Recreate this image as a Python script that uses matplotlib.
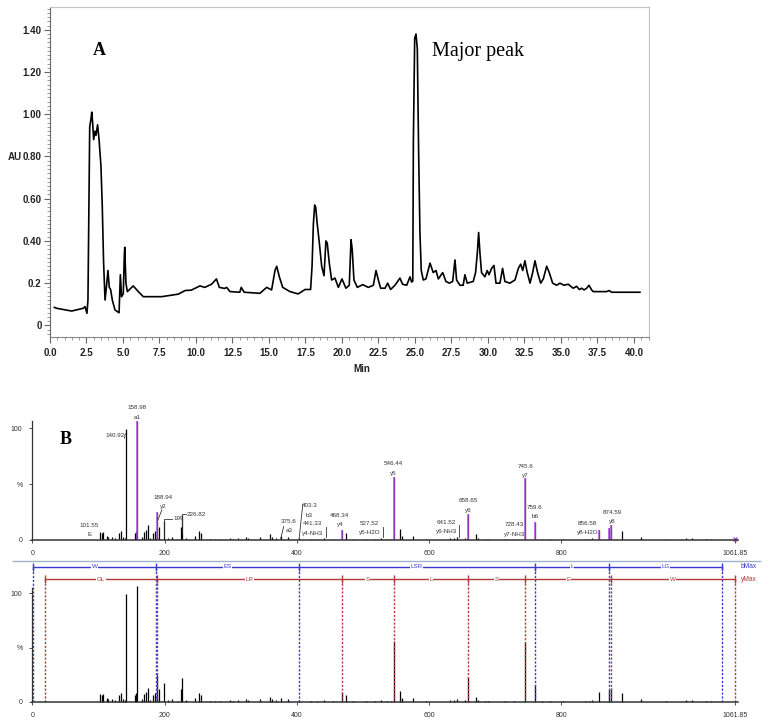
import matplotlib
matplotlib.use("Agg")
import matplotlib.pyplot as plt
from matplotlib.ticker import MultipleLocator, FixedLocator, FuncFormatter

W, H = 768, 724

# ---- panel A: chromatogram (min, AU) ----
time_min = [0.30, 0.46, 1.48, 2.28, 2.40, 2.53, 2.60, 2.72, 2.81, 2.86,
            2.92, 2.99, 3.08, 3.15, 3.26, 3.36, 3.49, 3.58, 3.67, 3.77,
            3.86, 3.97, 4.06, 4.15, 4.27, 4.45, 4.73, 4.82, 4.90, 5.02,
            5.09, 5.12, 5.20, 5.30, 5.70, 6.05, 6.39, 7.65, 8.79, 9.25,
            9.68, 10.27, 10.60, 11.07, 11.40, 11.60, 11.96, 12.10, 12.33, 13.00,
            13.10, 13.30, 14.38, 14.84, 15.18, 15.41, 15.53, 15.71, 15.94, 16.44,
            17.00, 17.47, 17.85, 17.95, 18.04, 18.13, 18.20, 18.29, 18.45, 18.61,
            18.77, 18.90, 18.99, 19.13, 19.29, 19.52, 19.75, 20.00, 20.27, 20.50,
            20.62, 20.70, 20.82, 21.05, 21.42, 21.80, 22.15, 22.33, 22.51, 22.65,
            22.95, 23.13, 23.33, 23.63, 23.97, 24.15, 24.43, 24.66, 24.77, 24.85,
            24.89, 24.98, 25.07, 25.16, 25.25, 25.34, 25.43, 25.57, 25.75, 26.03,
            26.25, 26.44, 26.60, 26.90, 27.12, 27.35, 27.58, 27.74, 27.85, 28.08,
            28.30, 28.42, 28.58, 28.99, 29.15, 29.27, 29.36, 29.45, 29.56, 29.79,
            29.95, 30.07, 30.25, 30.41, 30.55, 30.82, 31.00, 31.16, 31.50, 31.85,
            32.08, 32.24, 32.38, 32.53, 32.69, 32.88, 33.06, 33.22, 33.40, 33.61,
            33.79, 34.02, 34.20, 34.43, 34.70, 34.93, 35.20, 35.50, 35.84, 36.07,
            36.26, 36.42, 36.58, 36.76, 36.92, 37.10, 37.21, 38.12, 38.30, 38.47, 40.41]
absorb = [0.085, 0.081, 0.068, 0.081, 0.089, 0.057, 0.12, 0.94, 0.98, 1.01,
          0.96, 0.88, 0.92, 0.90, 0.95, 0.88, 0.755, 0.565, 0.30, 0.12,
          0.18, 0.26, 0.18, 0.17, 0.12, 0.073, 0.06, 0.24, 0.136, 0.15,
          0.33, 0.37, 0.20, 0.16, 0.187, 0.16, 0.136, 0.136, 0.148, 0.165,
          0.167, 0.187, 0.18, 0.195, 0.22, 0.18, 0.175, 0.18, 0.16, 0.157,
          0.18, 0.157, 0.152, 0.18, 0.168, 0.26, 0.28, 0.23, 0.18, 0.16,
          0.149, 0.17, 0.17, 0.28, 0.48, 0.57, 0.56, 0.49, 0.39, 0.28,
          0.235, 0.40, 0.39, 0.295, 0.215, 0.224, 0.18, 0.22, 0.176, 0.19,
          0.406, 0.36, 0.215, 0.18, 0.193, 0.18, 0.19, 0.26, 0.21, 0.176,
          0.176, 0.20, 0.17, 0.19, 0.224, 0.195, 0.19, 0.23, 0.205, 0.21,
          0.87, 1.36, 1.38, 1.31, 0.82, 0.44, 0.26, 0.215, 0.22, 0.295,
          0.25, 0.26, 0.22, 0.25, 0.208, 0.20, 0.208, 0.31, 0.215, 0.19,
          0.19, 0.24, 0.20, 0.208, 0.25, 0.343, 0.44, 0.343, 0.25, 0.23,
          0.26, 0.24, 0.27, 0.284, 0.20, 0.20, 0.27, 0.208, 0.20, 0.215,
          0.27, 0.29, 0.26, 0.306, 0.25, 0.20, 0.25, 0.306, 0.25, 0.20,
          0.22, 0.28, 0.25, 0.20, 0.19, 0.20, 0.19, 0.195, 0.176, 0.185,
          0.17, 0.176, 0.168, 0.176, 0.19, 0.168, 0.16, 0.16, 0.165, 0.157, 0.157]
y_ticks = [0, 0.2, 0.4, 0.6, 0.8, 1.0, 1.2, 1.4]
y_tick_labels = ["0", "0.2", "0.40", "0.60", "0.80", "1.00", "1.20", "1.40"]

# ---- panel B: MS/MS spectrum (m/z, % intensity) ----
peak_mz = [102.3, 104.8, 107.3, 112.4, 114.9, 119.9, 125.0, 131.0, 133.5, 137.6,
           140.0, 140.92, 155.0, 156.7, 158.98, 165.3, 169.3, 171.9, 174.4, 178.0,
           183.0, 185.4, 188.0, 188.94, 192.0, 199.0, 205.6, 210.7, 218.2, 224.5,
           226.82, 231.8, 246.0, 252.5, 254.5, 268.5, 276.0, 283.7, 299.0, 303.8,
           311.4, 323.0, 326.5, 344.0, 359.0, 361.7, 369.0, 375.6, 387.0, 403.3,
           422.0, 430.0, 441.33, 455.0, 468.34, 475.0, 485.0, 505.0, 518.0, 527.52,
           536.0, 543.0, 546.44, 556.0, 559.0, 576.0, 596.0, 632.0, 637.0, 641.52,
           654.0, 658.65, 671.0, 674.0, 684.0, 689.0, 714.0, 728.43, 745.6, 759.6,
           770.0, 782.0, 802.0, 835.0, 841.0, 847.0, 856.58, 872.7, 874.59, 892.0,
           920.0, 958.0, 988.0, 998.0, 1018.0, 1026.0]
peak_int = [7, 6, 7, 4, 3, 3, 2, 6, 8, 3,
            2, 99, 6, 8, 106, 3, 7, 9, 13, 2,
            6, 8, 3, 25, 12, 17, 2, 3, 1, 12,
            22, 2, 4, 8, 6, 1, 1, 1, 2, 1,
            2, 3, 2, 3, 5, 3, 2, 4, 3, 2,
            1, 1, 2, 1, 9, 6, 1, 1, 1, 2,
            1, 1, 56, 10, 4, 4, 1, 2, 2, 3,
            2, 23, 5, 2, 1, 1, 1, 1, 55, 16,
            1, 1, 1, 1, 1, 2, 9, 11, 13, 8,
            3, 1, 2, 2, 1, 1]
matched_mz = [158.98, 188.94, 468.34, 546.44, 658.65, 745.6, 759.6, 856.58, 872.7, 874.59]

ann_mz = [101.55, 140.92, 158.98, 188.94, 199, 226.82, 375.6, 403.3, 441.33, 468.34,
          527.52, 546.44, 641.52, 658.65, 728.43, 745.6, 759.6, 856.58, 874.59]
ann_ion = ["E", "", "a1", "y2", "", "", "a3", "b3", "y4-NH3", "y4",
           "y5-H2O", "y5", "y6-NH3", "y6", "y7-NH3", "y7", "b6", "y8-H2O", "y8"]

# fragment ladders
b_pos = [1.0, 187.08, 403.3, 759.6, 872.7, 1042.8]
b_seg = ["W", "ES", "LSR", "L", "LG"]
y_pos = [19.0, 188.94, 468.34, 546.44, 658.65, 745.6, 874.59, 1061.85]
y_seg = ["GL", "LR", "S", "L", "S", "E", "W"]
mz_ticks = [0, 200, 400, 600, 800, 1061.85]

MAG = "#b44ee6"
BLUE = "#3a3ad0"
RED = "#b33a3a"
SANS = ["Liberation Sans", "DejaVu Sans"]
SERIF = ["Liberation Serif", "DejaVu Serif"]


def px_axes(fig, x0, y0, x1, y1):
    return fig.add_axes([x0 / W, 1 - y1 / H, (x1 - x0) / W, (y1 - y0) / H])


fig = plt.figure(figsize=(W / 100, H / 100), dpi=100)

# ================= panel A =================
ax = px_axes(fig, 50, 7, 649, 337)
ax.plot(time_min, absorb, color="black", lw=1.2)
ax.set_xlim(0, 41.03)
ax.set_ylim(-0.055, 1.508)
ax.xaxis.set_major_locator(MultipleLocator(2.5))
ax.xaxis.set_minor_locator(MultipleLocator(0.5))
ax.xaxis.set_major_formatter(FuncFormatter(lambda v, p: f"{v:.1f}"))
ax.yaxis.set_major_locator(FixedLocator(y_ticks))
ax.set_yticklabels(y_tick_labels)
ax.yaxis.set_minor_locator(MultipleLocator(0.02))
ax.tick_params(which="major", direction="out", length=4, width=0.8, color="#666")
ax.tick_params(which="minor", direction="out", length=2, width=0.6, color="#888")
ax.tick_params(axis="x", pad=4)
ax.tick_params(axis="y", pad=2)
for lab in ax.get_xticklabels() + ax.get_yticklabels():
    lab.set_family(SANS)
    lab.set_fontweight("bold")
    lab.set_fontsize(7)
    lab.set_color("#222")
ax.spines["left"].set_color("#666")
ax.spines["bottom"].set_color("#888")
for s in ("top", "right"):
    ax.spines[s].set_color("#c4c4c4")
ax.text(3.4, 1.30, "A", family=SERIF, fontweight="bold", fontsize=13, va="center", ha="center")
ax.text(26.2, 1.25, "Major peak", family=SERIF, fontsize=14.5, va="bottom", ha="left")
fig.text(15 / W, 1 - 157 / H, "AU", family=SANS, fontweight="bold", fontsize=7,
         ha="center", va="center", color="#222")
fig.text(362 / W, 1 - 369 / H, "Min", family=SANS, fontweight="bold", fontsize=7,
         ha="center", va="center", color="#222")

# ================= panel B: top annotated spectrum =================
XMAX = 1067


def style_spec(a):
    a.set_xlim(0, XMAX)
    for s in ("top", "right"):
        a.spines[s].set_visible(False)
    a.spines["left"].set_color("#333")
    a.spines["bottom"].set_color("#333")
    a.spines["left"].set_linewidth(0.9)
    a.spines["bottom"].set_linewidth(1.1)
    a.set_xticks(mz_ticks)
    a.set_xticklabels(["0", "200", "400", "600", "800", "1061.85"])
    a.set_yticks([0, 50, 100])
    a.set_yticklabels(["0", "%", "100"])
    a.tick_params(length=2, width=0.6, color="#333", labelsize=5, pad=5,
                  labelcolor="#333")
    for lab in a.get_xticklabels() + a.get_yticklabels():
        lab.set_family(SANS)


top = px_axes(fig, 32.3, 421, 738, 540)
top.set_ylim(0, 106.3)
style_spec(top)
top.vlines(peak_mz, 0, peak_int, color="black", lw=0.9)
mag_int = [peak_int[peak_mz.index(m)] for m in matched_mz]
top.vlines(matched_mz, 0, mag_int, color=MAG, lw=1.1)
top.plot([1061.85], [1.0], marker="x", ms=3, color=MAG, clip_on=False)

# label placement (value line centre, data units); ion name sits one line lower
lab_x = [86, 139, 159, 198, 213, 233, 388, 419, 424, 465,
         510, 546, 626, 659, 729, 746, 760, 840, 877]
lab_y = [12.8, 93, 118, 38, 19, 23, 16.4, 30.4, 14.3, 22.3,
         15, 68, 15.8, 35, 13.4, 66, 29, 15, 24.4]
lab_ha = ["center", "right", "center", "center", "left", "left", "center", "center", "center", "center",
          "center", "center", "center", "center", "center", "center", "center", "center", "center"]
for m, ion, lx, ly, ha in zip(ann_mz, ann_ion, lab_x, lab_y, lab_ha):
    top.text(lx, ly, f"{m:g}", fontsize=4.5, family=SANS, ha=ha, va="center",
             color="#333", clip_on=False)
    if ion:
        top.text(lx, ly - 8.3, ion, fontsize=4.5, family=SANS, ha=ha, va="center",
                 color="#333", clip_on=False)

# connector lines from labels to peaks
kw = dict(color="#333", lw=0.6)
top.plot([199, 199, 211], [3, 19, 19], **kw)
top.plot([226.82, 226.82, 232], [6, 23, 23], **kw)
top.plot([190, 196], [18, 27], **kw)
top.plot([375.6, 380], [1, 12], **kw)
top.plot([403.3, 409], [0.5, 32], **kw)
top.plot([444, 444], [2.5, 12], **kw)
top.plot([530, 530], [2.5, 12], **kw)
top.plot([645, 645], [2.5, 13], **kw)
top.plot([139.5, 140.5], [91, 95], **kw)

fig.text(65.7 / W, 1 - 439.3 / H, "B", family=SERIF, fontweight="bold", fontsize=13,
         ha="center", va="center")

# ================= panel B: bottom spectrum with ladders =================
bot = px_axes(fig, 32.3, 560, 738, 702)
bot.set_ylim(0, 130.3)
style_spec(bot)
bot.spines["left"].set_bounds(0, 104.6)
bot.vlines(peak_mz, 0, peak_int, color="black", lw=0.9, clip_on=False)

# separator line
bot.plot([-29, 1100], [129.4, 129.4], color="#9fb4cc", lw=1, clip_on=False)

B_Y, Y_Y = 123.9, 112.8
dash = (0, (1.6, 1.2))
bot.vlines(y_pos, 0, Y_Y, color=RED, lw=1, linestyles=[dash])
bot.vlines(b_pos, 0, B_Y, color=BLUE, lw=1, linestyles=[dash])

for pos, seg, yy, col, tag in ((b_pos, b_seg, B_Y, BLUE, "bMax"), (y_pos, y_seg, Y_Y, RED, "yMax")):
    bot.plot([pos[0], pos[-1]], [yy, yy], color=col, lw=1, clip_on=False)
    bot.vlines(pos, yy - 3.7, yy + 3.7, color=col, lw=1)
    for a, b, s in zip(pos[:-1], pos[1:], seg):
        bot.text((a + b) / 2, yy, s, fontsize=4.5, family=SANS, color=col, ha="center",
                 va="center", bbox=dict(facecolor="white", edgecolor="none", pad=0.3))
    bot.text(1071, yy, tag, fontsize=4.8, family=SANS, color=col, ha="left", va="center",
             clip_on=False)

fig.savefig("out.png", dpi=100)
